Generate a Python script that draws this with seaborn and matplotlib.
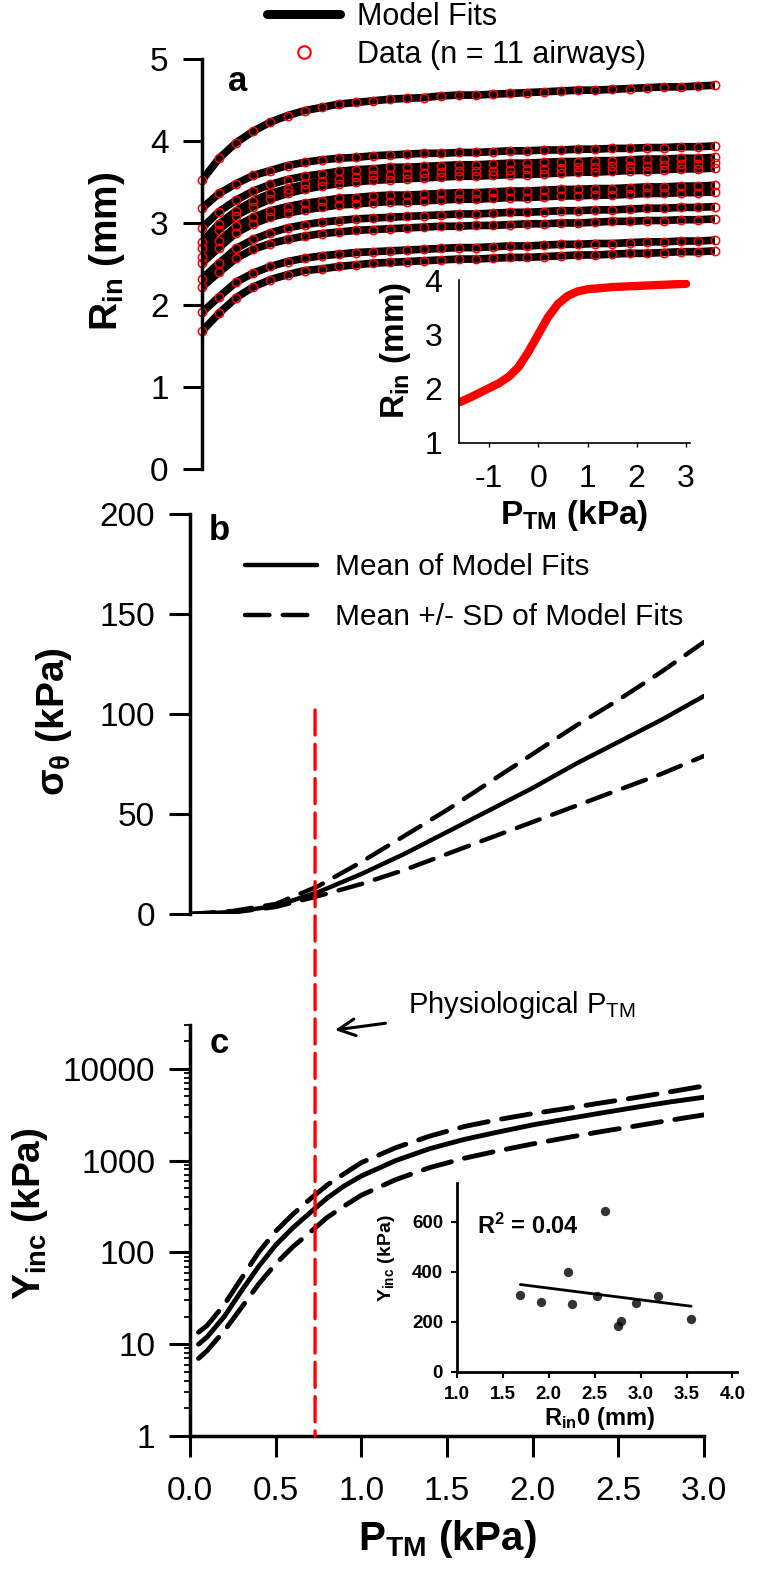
import numpy as np
import pandas as pd
import matplotlib
matplotlib.use('Agg')
import matplotlib.pyplot as plt
import seaborn as sns
from matplotlib.lines import Line2D
from matplotlib.patches import ConnectionPatch

# ---- panel a: inner radius vs transmural pressure (11 airways) ----
pa_ptm = [0.0, 0.1, 0.2, 0.3, 0.4, 0.5, 0.6, 0.7, 0.8, 0.9, 1.0,
          1.1, 1.2, 1.3, 1.4, 1.5, 1.6, 1.7, 1.8, 1.9, 2.0,
          2.1, 2.2, 2.3, 2.4, 2.5, 2.6, 2.7, 2.8, 2.9, 3.0]
rin_a1 = [3.52, 3.79, 3.98, 4.12, 4.23, 4.31, 4.37, 4.41, 4.45, 4.47, 4.49, 4.51, 4.52, 4.53, 4.55, 4.56,
          4.56, 4.57, 4.58, 4.59, 4.60, 4.61, 4.62, 4.62, 4.63, 4.64, 4.65, 4.66, 4.66, 4.67, 4.68]
rin_a2 = [3.18, 3.36, 3.48, 3.58, 3.64, 3.70, 3.74, 3.77, 3.79, 3.80, 3.82, 3.83, 3.84, 3.85, 3.85, 3.86,
          3.86, 3.87, 3.88, 3.88, 3.89, 3.89, 3.90, 3.90, 3.91, 3.91, 3.92, 3.92, 3.93, 3.93, 3.94]
rin_a3 = [2.94, 3.14, 3.28, 3.39, 3.47, 3.53, 3.57, 3.60, 3.63, 3.65, 3.66, 3.68, 3.68, 3.69, 3.70, 3.71,
          3.71, 3.72, 3.73, 3.73, 3.74, 3.75, 3.75, 3.76, 3.76, 3.77, 3.78, 3.78, 3.79, 3.79, 3.80]
rin_a4 = [2.77, 2.99, 3.15, 3.27, 3.36, 3.42, 3.47, 3.51, 3.54, 3.56, 3.58, 3.59, 3.60, 3.61, 3.62, 3.63,
          3.63, 3.64, 3.65, 3.66, 3.66, 3.67, 3.68, 3.68, 3.69, 3.70, 3.70, 3.71, 3.72, 3.72, 3.73]
rin_a5 = [2.70, 2.92, 3.09, 3.20, 3.29, 3.36, 3.41, 3.45, 3.48, 3.50, 3.52, 3.53, 3.54, 3.55, 3.56, 3.57,
          3.57, 3.58, 3.59, 3.59, 3.60, 3.61, 3.62, 3.62, 3.63, 3.64, 3.64, 3.65, 3.66, 3.66, 3.67]
rin_a6 = [2.59, 2.78, 2.96, 3.07, 3.15, 3.20, 3.24, 3.27, 3.30, 3.31, 3.33, 3.34, 3.34, 3.35, 3.36, 3.37,
          3.37, 3.38, 3.39, 3.39, 3.40, 3.41, 3.41, 3.42, 3.42, 3.43, 3.44, 3.44, 3.45, 3.45, 3.46]
rin_a7 = [2.51, 2.70, 2.88, 2.99, 3.07, 3.12, 3.16, 3.19, 3.22, 3.23, 3.25, 3.26, 3.26, 3.27, 3.28, 3.29,
          3.29, 3.30, 3.31, 3.31, 3.32, 3.33, 3.33, 3.34, 3.34, 3.35, 3.36, 3.36, 3.37, 3.37, 3.38]
rin_a8 = [2.32, 2.51, 2.69, 2.80, 2.88, 2.94, 2.98, 3.01, 3.03, 3.05, 3.06, 3.07, 3.08, 3.09, 3.10, 3.11,
          3.11, 3.12, 3.13, 3.13, 3.14, 3.15, 3.15, 3.16, 3.16, 3.17, 3.18, 3.18, 3.19, 3.19, 3.20]
rin_a9 = [2.22, 2.40, 2.57, 2.68, 2.75, 2.80, 2.84, 2.87, 2.89, 2.91, 2.92, 2.93, 2.94, 2.95, 2.96, 2.96,
          2.97, 2.97, 2.98, 2.99, 2.99, 3.00, 3.00, 3.01, 3.02, 3.02, 3.03, 3.03, 3.04, 3.04, 3.05]
rin_a10 = [1.91, 2.10, 2.28, 2.39, 2.47, 2.53, 2.57, 2.60, 2.62, 2.64, 2.65, 2.66, 2.67, 2.68, 2.69, 2.70,
           2.70, 2.71, 2.72, 2.72, 2.73, 2.74, 2.74, 2.75, 2.75, 2.76, 2.77, 2.77, 2.78, 2.78, 2.79]
rin_a11 = [1.68, 1.90, 2.09, 2.22, 2.31, 2.37, 2.42, 2.44, 2.47, 2.49, 2.51, 2.52, 2.53, 2.54, 2.55, 2.56,
           2.56, 2.57, 2.58, 2.58, 2.59, 2.60, 2.61, 2.61, 2.62, 2.63, 2.63, 2.64, 2.65, 2.65, 2.66]
rin_curves = [rin_a1, rin_a2, rin_a3, rin_a4, rin_a5, rin_a6, rin_a7, rin_a8, rin_a9, rin_a10, rin_a11]

# inset of panel a: one airway over the full pressure range
inset_ptm = [-1.6, -1.4, -1.2, -1.0, -0.8, -0.6, -0.4, -0.2, 0.0, 0.2, 0.4, 0.6, 0.8, 1.0, 1.5, 2.0, 2.5, 3.0]
inset_rin = [1.75, 1.83, 1.92, 2.01, 2.10, 2.22, 2.40, 2.68, 3.00, 3.32, 3.56, 3.71, 3.79, 3.83, 3.87, 3.89, 3.91, 3.93]

# ---- panel b: hoop stress ----
sig_ptm = [0.0, 0.25, 0.5, 0.75, 1.0, 1.25, 1.5, 1.75, 2.0, 2.25, 2.5, 2.75, 3.0]
sig_mean = [0, 1, 4, 11, 20, 30, 41, 52, 63, 75, 86, 97, 109]
sig_hi = [0, 1.5, 5, 14, 26, 39, 52, 66, 80, 94, 107, 121, 136]
sig_lo = [0, 0.8, 3.5, 9, 15, 22, 30, 38, 46, 54, 62, 70, 79]

# ---- panel c: incremental Young's modulus ----
y_ptm = [0.05, 0.1, 0.2, 0.3, 0.4, 0.5, 0.6, 0.7, 0.8, 0.9, 1.0, 1.2, 1.4, 1.6, 1.8, 2.0, 2.2, 2.4, 2.6, 2.8, 3.0]
y_mean = [10, 12, 20, 38, 70, 120, 185, 270, 390, 530, 680, 1000, 1350, 1700, 2050, 2450, 2850, 3300, 3800, 4350, 4900]
y_hi = [13.5, 16, 27, 52, 100, 170, 260, 380, 540, 720, 950, 1380, 1850, 2350, 2800, 3250, 3700, 4250, 4850, 5600, 6500]
y_lo = [7, 8.5, 14, 25, 45, 75, 115, 165, 240, 320, 420, 620, 840, 1060, 1280, 1520, 1780, 2070, 2380, 2750, 3150]
c_yticks = [1, 10, 100, 1000, 10000]
c_ytick_labels = ['1', '10', '100', '1000', '10000']

# inset of panel c: modulus at physiological PTM vs initial radius
rin0 = [1.69, 1.91, 2.21, 2.25, 2.52, 2.61, 2.75, 2.79, 2.95, 3.19, 3.55]
yinc_rin0 = [308, 279, 401, 272, 304, 644, 183, 205, 275, 305, 214]

phys_ptm = 0.73
phys_top = 102

# ---- style ----
sns.set_theme(style='ticks')
plt.rcParams.update({
    'font.family': ['Liberation Sans', 'DejaVu Sans'],
    'mathtext.default': 'regular',
    'axes.unicode_minus': False,
    'axes.edgecolor': 'black', 'axes.labelcolor': 'black', 'text.color': 'black',
    'xtick.color': 'black', 'ytick.color': 'black',
    'axes.linewidth': 2.5,
})

W, H = 759, 1576
fig = plt.figure(figsize=(W / 100, H / 100), dpi=100)


def box(l, t, r, b):
    return [l / W, 1 - b / H, (r - l) / W, (b - t) / H]


ax_a = fig.add_axes(box(202, 59, 715, 469))
ax_ai = fig.add_axes(box(459, 280, 690, 443))
ax_b = fig.add_axes(box(190, 514, 704, 914))
ax_c = fig.add_axes(box(190, 1025, 704, 1436))
ax_ci = fig.add_axes(box(457, 1183, 737, 1372))
for ax in (ax_a, ax_ai, ax_b, ax_c, ax_ci):
    ax.patch.set_alpha(0)

# panel a
df_a = pd.DataFrame({
    'ptm': pa_ptm * len(rin_curves),
    'rin': [v for c in rin_curves for v in c],
    'airway': np.repeat(np.arange(len(rin_curves)), len(pa_ptm)),
})
sns.lineplot(data=df_a, x='ptm', y='rin', units='airway', estimator=None, color='black',
             lw=5.5, ax=ax_a, legend=False, solid_capstyle='round')
sns.lineplot(data=df_a, x='ptm', y='rin', units='airway', estimator=None, color='red',
             marker='o', ms=6, mfc='none', mec='red', mew=1.1, linestyle='none',
             ax=ax_a, legend=False, clip_on=False)
ax_a.set_xlim(0, 3)
ax_a.set_ylim(0, 5)
ax_a.set_yticks([0, 1, 2, 3, 4, 5])
ax_a.set_xticks([])
sns.despine(ax=ax_a, bottom=True)
ax_a.tick_params(axis='y', length=14, width=2.2, labelsize=24, pad=10)
ax_a.set_xlabel('')
ax_a.set_ylabel('R$_{in}$ (mm)', fontsize=28, fontweight='bold')
ax_a.yaxis.set_label_coords(-0.146, 0.53)
ax_a.text(0.07, 0.944, 'a', transform=ax_a.transAxes, fontsize=25, fontweight='bold',
          ha='center', va='center')
h_fit = Line2D([], [], color='black', lw=6.5, solid_capstyle='round')
h_dat = Line2D([], [], ls='none', marker='o', ms=9, mfc='none', mec='red', mew=1.5)
ax_a.legend([h_fit, h_dat], ['Model Fits', 'Data (n = 11 airways)'], loc='upper left',
            bbox_to_anchor=(267 / W, 1 - 2 / H), bbox_transform=fig.transFigure,
            frameon=False, fontsize=22, handlelength=2.4, handletextpad=0.55,
            labelspacing=0.25, borderpad=0, borderaxespad=0)

# inset a
sns.lineplot(x=inset_ptm, y=inset_rin, color='red', lw=6, ax=ax_ai)
ax_ai.set_xlim(-1.61, 3.08)
ax_ai.set_ylim(1, 4)
ax_ai.set_xticks([-1, 0, 1, 2, 3])
ax_ai.set_yticks([1, 2, 3, 4])
sns.despine(ax=ax_ai)
for s in ax_ai.spines.values():
    s.set_linewidth(1.2)
ax_ai.tick_params(axis='x', length=3, width=1, labelsize=23, pad=12)
ax_ai.tick_params(axis='y', length=0, labelsize=23, pad=12)
ax_ai.set_xlabel('P$_{TM}$ (kPa)', fontsize=24, fontweight='bold')
ax_ai.set_ylabel('R$_{in}$ (mm)', fontsize=24, fontweight='bold')
ax_ai.xaxis.set_label_coords(0.5, -0.34)
ax_ai.yaxis.set_label_coords(-0.2, 0.57)

# panel b
dash_b = (0, (5.5, 3))
sns.lineplot(x=sig_ptm, y=sig_mean, color='black', lw=3.2, ax=ax_b)
sns.lineplot(x=sig_ptm, y=sig_hi, color='black', lw=3.2, linestyle=dash_b,
             dash_capstyle='round', ax=ax_b)
sns.lineplot(x=sig_ptm, y=sig_lo, color='black', lw=3.2, linestyle=dash_b,
             dash_capstyle='round', ax=ax_b)
ax_b.set_xlim(0, 3)
ax_b.set_ylim(0, 200)
ax_b.set_yticks([0, 50, 100, 150, 200])
ax_b.set_xticks([])
sns.despine(ax=ax_b, bottom=True)
ax_b.tick_params(axis='y', length=15, width=2.2, labelsize=24, pad=10)
ax_b.set_ylabel('σ$_{θ}$ (kPa)', fontsize=28, fontweight='bold')
ax_b.yaxis.set_label_coords(-0.225, 0.48)
ax_b.text(0.058, 0.96, 'b', transform=ax_b.transAxes, fontsize=25, fontweight='bold',
          ha='center', va='center')
h_mean = Line2D([], [], color='black', lw=3.2)
h_sd = Line2D([], [], color='black', lw=3.2, linestyle=dash_b, dash_capstyle='round')
ax_b.legend([h_mean, h_sd], ['Mean of Model Fits', 'Mean +/- SD of Model Fits'], loc='upper left',
            bbox_to_anchor=(245 / W, 1 - 553 / H), bbox_transform=fig.transFigure,
            frameon=False, fontsize=21.5, handlelength=2.4, handletextpad=0.6,
            labelspacing=0.75, borderpad=0, borderaxespad=0)

# panel c
dash_c = (0, (6, 2.8))
sns.lineplot(x=y_ptm, y=y_mean, color='black', lw=3.5, ax=ax_c)
sns.lineplot(x=y_ptm, y=y_hi, color='black', lw=3.5, linestyle=dash_c,
             dash_capstyle='round', ax=ax_c)
sns.lineplot(x=y_ptm, y=y_lo, color='black', lw=3.5, linestyle=dash_c,
             dash_capstyle='round', ax=ax_c)
ax_c.set_yscale('log')
ax_c.set_xlim(0, 3)
ax_c.set_ylim(1, 30000)
ax_c.set_yticks(c_yticks)
ax_c.set_yticklabels(c_ytick_labels)
ax_c.set_xticks([0, 0.5, 1.0, 1.5, 2.0, 2.5, 3.0])
ax_c.set_xticklabels(['0.0', '0.5', '1.0', '1.5', '2.0', '2.5', '3.0'])
sns.despine(ax=ax_c)
ax_c.tick_params(axis='both', which='major', length=15, width=2.2, labelsize=24, pad=10)
ax_c.tick_params(axis='x', which='major', pad=14)
ax_c.tick_params(axis='y', which='minor', length=4, width=1.3)
ax_c.set_ylabel('Y$_{inc}$ (kPa)', fontsize=28, fontweight='bold')
ax_c.yaxis.set_label_coords(-0.272, 0.54)
ax_c.set_xlabel('P$_{TM}$ (kPa)', fontsize=29, fontweight='bold')
ax_c.xaxis.set_label_coords(0.5, -0.2)
ax_c.text(0.058, 0.956, 'c', transform=ax_c.transAxes, fontsize=25, fontweight='bold',
          ha='center', va='center')
ax_c.annotate('Physiological P$_{TM}$', xy=(335 / W, 1 - 1030 / H), xycoords='figure fraction',
              xytext=(408 / W, 1 - 1005 / H), textcoords='figure fraction',
              fontsize=21, ha='left', va='center',
              arrowprops=dict(arrowstyle='->', lw=2.2, color='black', mutation_scale=30,
                              shrinkA=14, shrinkB=0))

# red dashed line marking the physiological transmural pressure
red_line = ConnectionPatch(xyA=(phys_ptm, phys_top), coordsA=ax_b.transData,
                           xyB=(phys_ptm, 1), coordsB=ax_c.transData,
                           color='red', lw=2.4, linestyle=(0, (7.5, 2.8)), zorder=5)
fig.add_artist(red_line)

# inset c
sns.regplot(x=rin0, y=yinc_rin0, ci=None, ax=ax_ci, color='black',
            scatter_kws=dict(s=45, linewidths=0), line_kws=dict(lw=2))
ax_ci.set_xlim(1.0, 4.05)
ax_ci.set_ylim(0, 756)
ax_ci.set_xticks([1.0, 1.5, 2.0, 2.5, 3.0, 3.5, 4.0])
ax_ci.set_xticklabels(['1.0', '1.5', '2.0', '2.5', '3.0', '3.5', '4.0'])
ax_ci.set_yticks([0, 200, 400, 600])
sns.despine(ax=ax_ci)
for s in ax_ci.spines.values():
    s.set_linewidth(2)
ax_ci.tick_params(axis='both', length=4, width=1.5, labelsize=13.5, pad=6)
for lab in ax_ci.get_xticklabels() + ax_ci.get_yticklabels():
    lab.set_fontweight('bold')
ax_ci.set_xlabel('R$_{in}$0 (mm)', fontsize=17, fontweight='bold')
ax_ci.set_ylabel('Y$_{inc}$ (kPa)', fontsize=14, fontweight='bold')
ax_ci.xaxis.set_label_coords(0.51, -0.175)
ax_ci.yaxis.set_label_coords(-0.214, 0.6)
ax_ci.text(0.07, 0.77, 'R$^2$ = 0.04', transform=ax_ci.transAxes, fontsize=17,
           fontweight='bold', ha='left', va='center')

fig.savefig('out.png', dpi=100)
